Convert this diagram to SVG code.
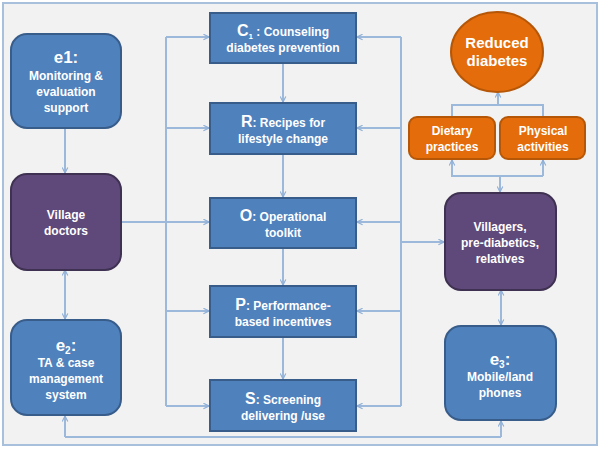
<svg xmlns="http://www.w3.org/2000/svg" width="600" height="449" viewBox="0 0 600 449">
<defs>
<marker id="ah" viewBox="0 0 10 10" refX="9" refY="5" markerWidth="7" markerHeight="7" orient="auto-start-reverse" markerUnits="userSpaceOnUse">
<path d="M1,1 L9,5 L1,9" fill="none" stroke="#8eaed6" stroke-width="1.6"/>
</marker>
<style>
.frame{fill:#f2f2f2;stroke:#a9c0dd;stroke-width:2}
.c{fill:none;stroke:#9cb8da;stroke-width:2}
.a{marker-end:url(#ah)}
.b{marker-start:url(#ah);marker-end:url(#ah)}
.blue{fill:#4f81bd;stroke:#385d8a;stroke-width:2}
.purple{fill:#5f497a;stroke:#3f3151;stroke-width:2}
.orange{fill:#e46c0a;stroke:#b65708;stroke-width:2}
text{font-family:"Liberation Sans",Arial,sans-serif;font-weight:bold;fill:#ffffff;text-anchor:middle}
.t{font-size:12px}
.big{font-size:16px}
.e{font-size:17px}
</style>
</defs>
<rect class="frame" x="3" y="3" width="594" height="442"/>
<g id="connectors">
<line class="c a" x1="65" y1="128" x2="65" y2="173"/>
<line class="c b" x1="65" y1="270" x2="65" y2="319"/>
<polyline class="c" points="166,37 166,406"/>
<line class="c a" x1="166" y1="37" x2="209" y2="37"/>
<line class="c a" x1="166" y1="128" x2="209" y2="128"/>
<line class="c a" x1="121" y1="222" x2="209" y2="222"/>
<line class="c a" x1="166" y1="311" x2="209" y2="311"/>
<line class="c a" x1="166" y1="406" x2="209" y2="406"/>
<line class="c a" x1="283" y1="63" x2="283" y2="102"/>
<line class="c a" x1="283" y1="154" x2="283" y2="197"/>
<line class="c a" x1="283" y1="248" x2="283" y2="285"/>
<line class="c a" x1="283" y1="337" x2="283" y2="379"/>
<polyline class="c" points="401,37 401,406"/>
<line class="c a" x1="401" y1="37" x2="357" y2="37"/>
<line class="c a" x1="401" y1="128" x2="357" y2="128"/>
<line class="c a" x1="401" y1="222" x2="357" y2="222"/>
<line class="c a" x1="401" y1="311" x2="357" y2="311"/>
<line class="c a" x1="401" y1="406" x2="357" y2="406"/>
<line class="c a" x1="401" y1="242" x2="444" y2="242"/>
<line class="c b" x1="501" y1="290" x2="501" y2="325"/>
<polyline class="c a" points="65,437 65,416"/>
<polyline class="c" points="65,437 501,437"/>
<line class="c a" x1="501" y1="437" x2="501" y2="421"/>
<polyline class="c" points="452,117 452,105 543,105 543,117"/>
<line class="c a" x1="498" y1="105" x2="498" y2="92"/>
<polyline class="c" points="452,161 452,176 543,176"/>
<line class="c a" x1="452" y1="176" x2="452" y2="160"/>
<line class="c a" x1="543" y1="176" x2="543" y2="160"/>
<line class="c a" x1="500" y1="176" x2="500" y2="192"/>
</g>
<g id="e1">
<rect class="blue" x="11" y="34" width="110" height="94" rx="16"/>
<text class="e" x="66" y="63">e1:</text>
<text class="t" x="66" y="80">Monitoring &amp;</text>
<text class="t" x="66" y="96">evaluation</text>
<text class="t" x="66" y="112">support</text>
</g>
<g id="village-doctors">
<rect class="purple" x="11" y="174" width="110" height="96" rx="16"/>
<text class="t" x="66" y="219">Village</text>
<text class="t" x="66" y="235">doctors</text>
</g>
<g id="e2">
<rect class="blue" x="11" y="320" width="110" height="95" rx="16"/>
<text class="e" x="66" y="351">e<tspan style="font-size:10px" dy="3">2</tspan><tspan dy="-3">:</tspan></text>
<text class="t" x="66" y="367">TA &amp; case</text>
<text class="t" x="66" y="383">management</text>
<text class="t" x="66" y="399">system</text>
</g>
<g id="C1">
<rect class="blue" x="210" y="13" width="146" height="50"/>
<text x="283" y="36"><tspan class="big">C</tspan><tspan style="font-size:8px" dy="3">1</tspan><tspan class="t" dy="-3"> : Counseling</tspan></text>
<text class="t" x="283" y="52">diabetes prevention</text>
</g>
<g id="R">
<rect class="blue" x="210" y="103" width="146" height="51"/>
<text x="283" y="127"><tspan class="big">R</tspan><tspan class="t">: Recipes for</tspan></text>
<text class="t" x="283" y="143">lifestyle change</text>
</g>
<g id="O">
<rect class="blue" x="210" y="198" width="146" height="50"/>
<text x="283" y="221"><tspan class="big">O</tspan><tspan class="t">: Operational</tspan></text>
<text class="t" x="283" y="237">toolkit</text>
</g>
<g id="P">
<rect class="blue" x="210" y="286" width="146" height="51"/>
<text x="283" y="310"><tspan class="big">P</tspan><tspan class="t">: Performance-</tspan></text>
<text class="t" x="283" y="326">based incentives</text>
</g>
<g id="S">
<rect class="blue" x="210" y="380" width="146" height="51"/>
<text x="283" y="404"><tspan class="big">S</tspan><tspan class="t">: Screening</tspan></text>
<text class="t" x="283" y="420">delivering /use</text>
</g>
<g id="reduced-diabetes">
<ellipse class="orange" cx="497" cy="52" rx="46" ry="40"/>
<text x="497" y="48" style="font-size:15px">Reduced</text>
<text x="497" y="66" style="font-size:15px">diabetes</text>
</g>
<g id="dietary">
<rect class="orange" x="409" y="117" width="86" height="42" rx="8"/>
<text class="t" x="452" y="135">Dietary</text>
<text class="t" x="452" y="151">practices</text>
</g>
<g id="physical">
<rect class="orange" x="500" y="117" width="85" height="42" rx="8"/>
<text class="t" x="543" y="135">Physical</text>
<text class="t" x="543" y="151">activities</text>
</g>
<g id="villagers">
<rect class="purple" x="445" y="193" width="111" height="97" rx="16"/>
<text class="t" x="500" y="231">Villagers,</text>
<text class="t" x="500" y="247">pre-diabetics,</text>
<text class="t" x="500" y="263">relatives</text>
</g>
<g id="e3">
<rect class="blue" x="445" y="326" width="111" height="94" rx="16"/>
<text class="e" x="500" y="365">e<tspan style="font-size:10px" dy="3">3</tspan><tspan dy="-3">:</tspan></text>
<text class="t" x="500" y="381">Mobile/land</text>
<text class="t" x="500" y="397">phones</text>
</g>
</svg>
